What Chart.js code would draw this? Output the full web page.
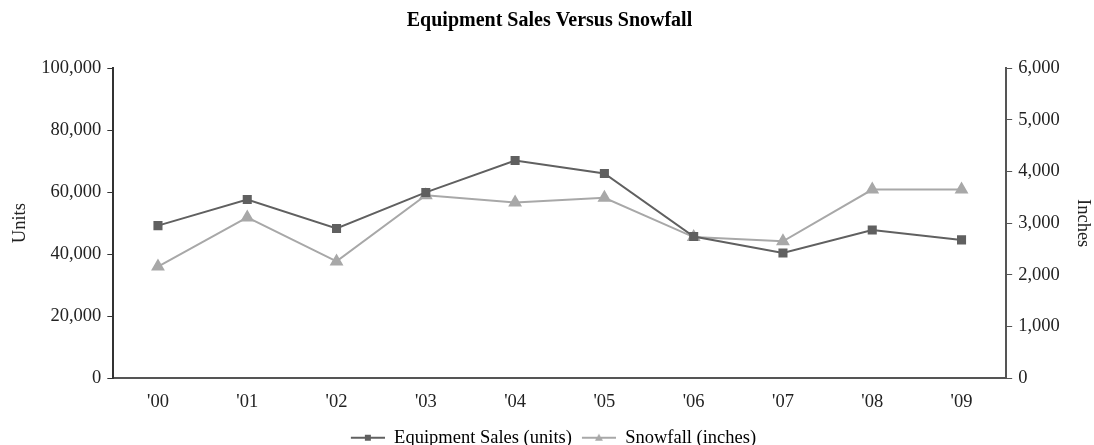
<!DOCTYPE html>
<html>
<head>
<meta charset="utf-8">
<script src="https://cdn.jsdelivr.net/npm/chart.js@4/dist/chart.umd.min.js"></script>
<style>
  html, body { margin: 0; padding: 0; background: #fff; }
  #wrap { width: 1094px; height: 445px; }
</style>
</head>
<body>
<div id="wrap"><canvas id="chart" width="1094" height="445"></canvas></div>
<script>
const years = ["'00", "'01", "'02", "'03", "'04", "'05", "'06", "'07", "'08", "'09"];
const salesUnits = [49200, 57600, 48300, 59900, 70200, 66000, 45700, 40400, 47800, 44600];
const snowfallInches = [2160, 3110, 2260, 3540, 3400, 3490, 2730, 2650, 3650, 3650];

const salesColor = '#606060';
const snowColor = '#a8a8a8';
const font = "'Liberation Serif', 'Times New Roman', serif";
const fs = 18.5;

// legend swatch: short line with the marker in the middle (small gap on the left)
function legendSwatch(color, shape) {
  const c = document.createElement('canvas');
  c.width = 42; c.height = 10;
  const g = c.getContext('2d');
  g.strokeStyle = color;
  g.lineWidth = 2;
  g.beginPath(); g.moveTo(8, 5); g.lineTo(42, 5); g.stroke();
  g.fillStyle = color;
  if (shape === 'rect') {
    g.fillRect(22, 2, 6, 6);
  } else {
    g.beginPath(); g.moveTo(25, 1); g.lineTo(29, 8); g.lineTo(21, 8); g.closePath(); g.fill();
  }
  return c;
}

const ctx = document.getElementById('chart').getContext('2d');
new Chart(ctx, {
  type: 'line',
  data: {
    labels: years,
    datasets: [{
      label: 'Equipment Sales (units)',
      data: salesUnits,
      yAxisID: 'y',
      borderColor: salesColor,
      backgroundColor: salesColor,
      borderWidth: 2,
      pointStyle: 'rect',
      pointRadius: 5,
      tension: 0,
      swatch: legendSwatch(salesColor, 'rect')
    }, {
      label: 'Snowfall (inches)',
      data: snowfallInches,
      yAxisID: 'y1',
      borderColor: snowColor,
      backgroundColor: snowColor,
      borderWidth: 2,
      pointStyle: 'triangle',
      pointRadius: 6,
      tension: 0,
      swatch: legendSwatch(snowColor, 'tri')
    }]
  },
  options: {
    responsive: false,
    animation: false,
    layout: { padding: { left: 5, right: 0, top: 7, bottom: -12 } },
    plugins: {
      title: {
        display: true,
        text: 'Equipment Sales Versus Snowfall',
        color: '#000',
        font: { family: font, size: 20, weight: 'bold' },
        padding: { top: 2, bottom: 35 }
      },
      legend: {
        position: 'bottom',
        labels: {
          usePointStyle: true,
          pointStyleWidth: 42,
          color: '#222',
          font: { family: font, size: fs },
          padding: 2,
          generateLabels: chart => chart.data.datasets.map((ds, i) => ({
            text: ds.label,
            pointStyle: ds.swatch,
            fillStyle: ds.borderColor,
            strokeStyle: ds.borderColor,
            lineWidth: 0,
            datasetIndex: i,
            hidden: false
          }))
        }
      },
      tooltip: { enabled: false }
    },
    scales: {
      x: {
        offset: true,
        grid: { display: false },
        border: { display: true, color: '#555', width: 2 },
        ticks: { color: '#222', font: { family: font, size: fs }, padding: 5 },
        afterFit: s => { s.height += 8; }
      },
      y: {
        position: 'left',
        min: 0, max: 100000,
        ticks: { stepSize: 20000, color: '#222', font: { family: font, size: fs }, padding: 6 },
        grid: { drawOnChartArea: false, drawTicks: true, tickLength: 6, color: '#333' },
        border: { display: true, color: '#333', width: 2 },
        title: { display: true, text: 'Units', color: '#222', font: { family: font, size: fs } }
      },
      y1: {
        position: 'right',
        min: 0, max: 6000,
        ticks: { stepSize: 1000, color: '#222', font: { family: font, size: fs }, padding: 6 },
        grid: { drawOnChartArea: false, drawTicks: true, tickLength: 6, color: '#555' },
        border: { display: true, color: '#555', width: 2 },
        title: { display: true, text: 'Inches', color: '#222', font: { family: font, size: fs }, padding: { top: 0, bottom: 6 } }
      }
    }
  }
});
</script>
</body>
</html>
